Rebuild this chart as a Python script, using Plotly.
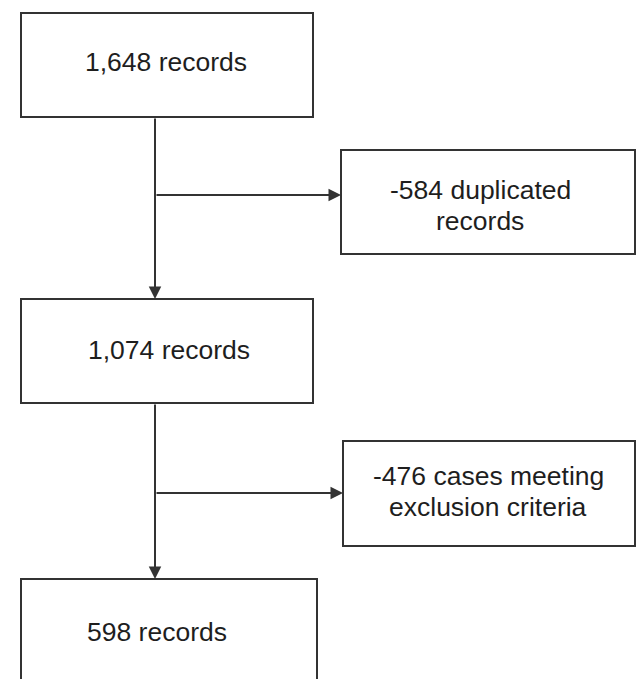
import plotly.graph_objects as go

# ---- data ----
record_counts = [1648, 1074, 598]
excluded_counts = [584, 476]
excluded_reasons = [["duplicated", "records"], ["cases meeting", "exclusion criteria"]]

main_labels = [f"{n:,} records" for n in record_counts]
side_labels = [[f"-{n} {r[0]}", r[1]] for n, r in zip(excluded_counts, excluded_reasons)]

# ---- layout (pixel geometry, y downwards) ----
W, H = 636, 679
main_boxes = [(21, 13, 313, 117), (21, 299, 313, 403), (21, 579, 317, 700)]
main_text_pos = [(166, 62), (169, 350), (157, 632)]
side_boxes = [(341, 150, 635, 254), (343, 441, 635, 546)]
side_text_pos = [(480, 190, 221), (488, 476, 507)]
trunk_x = 155
branch_y = [195, 493]

LINE = "#333333"
TEXT = "#1e1e1e"
FONT = "Liberation Sans, Arial, sans-serif"
FS = 26.5

fig = go.Figure()
shapes, annotations = [], []

for (x0, y0, x1, y1) in main_boxes + side_boxes:
    shapes.append(dict(type="rect", xref="x", yref="y", x0=x0, y0=y0, x1=x1, y1=y1,
                       line=dict(color=LINE, width=2), fillcolor="rgba(0,0,0,0)"))

for lab, (tx, ty) in zip(main_labels, main_text_pos):
    annotations.append(dict(x=tx, y=ty, xref="x", yref="y", text=lab, showarrow=False,
                            font=dict(family=FONT, size=FS, color=TEXT),
                            xanchor="center", yanchor="middle"))

for lines, (tx, ty1, ty2) in zip(side_labels, side_text_pos):
    for ln, ty in zip(lines, (ty1, ty2)):
        annotations.append(dict(x=tx, y=ty, xref="x", yref="y", text=ln, showarrow=False,
                                font=dict(family=FONT, size=FS, color=TEXT),
                                xanchor="center", yanchor="middle"))

# vertical arrows between main boxes
for i in range(len(main_boxes) - 1):
    y_start = main_boxes[i][3]
    y_end = main_boxes[i + 1][1]
    annotations.append(dict(x=trunk_x, y=y_end, ax=trunk_x, ay=y_start,
                            xref="x", yref="y", axref="x", ayref="y", text="",
                            showarrow=True, arrowhead=2, arrowsize=1.25, arrowwidth=2,
                            arrowcolor=LINE, standoff=0, startstandoff=0))

# horizontal arrows to exclusion boxes
for by, box in zip(branch_y, side_boxes):
    annotations.append(dict(x=box[0], y=by, ax=trunk_x, ay=by,
                            xref="x", yref="y", axref="x", ayref="y", text="",
                            showarrow=True, arrowhead=2, arrowsize=1.25, arrowwidth=2,
                            arrowcolor=LINE, standoff=0, startstandoff=0))

fig.update_layout(
    width=W, height=H,
    margin=dict(l=0, r=0, t=0, b=0),
    paper_bgcolor="white", plot_bgcolor="white",
    xaxis=dict(range=[0, W], visible=False, fixedrange=True),
    yaxis=dict(range=[H, 0], visible=False, fixedrange=True),
    shapes=shapes, annotations=annotations,
    showlegend=False,
)

fig.write_html("out.html",
               config={"displayModeBar": False},
               post_script="document.body.style.margin='0px';document.body.style.overflow='hidden';")
